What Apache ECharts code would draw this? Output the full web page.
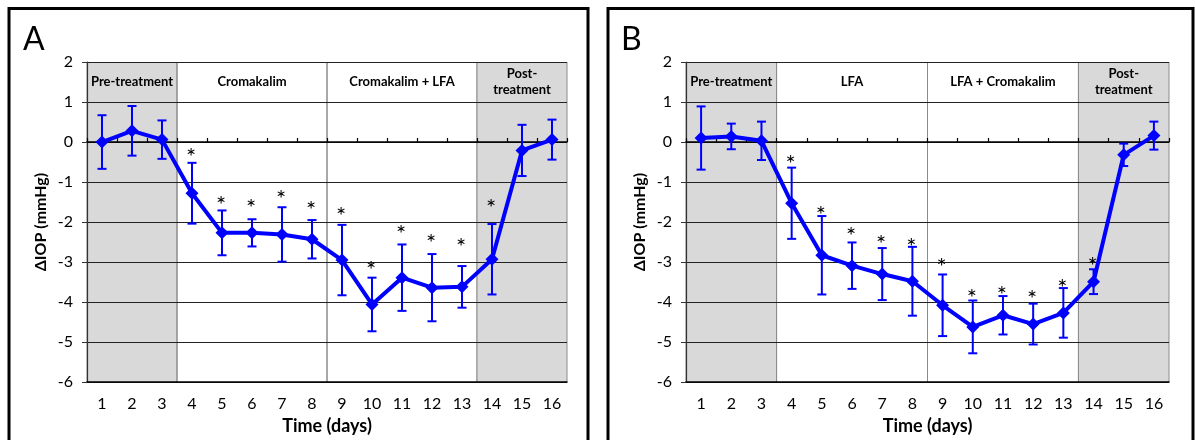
<!DOCTYPE html>
<html>
<head>
<meta charset="utf-8">
<script src="https://cdn.jsdelivr.net/npm/echarts@6/dist/echarts.min.js"></script>
<style>
html,body{margin:0;padding:0;background:#fff;}
#chart{width:1195px;height:440px;}
</style>
</head>
<body>
<div id="chart"></div>
<script>
// ---- data ----
const days = ['1','2','3','4','5','6','7','8','9','10','11','12','13','14','15','16'];
const yTicks = { min: -6, max: 2, step: 1 };

const meanA = [0, 0.28, 0.06, -1.28, -2.27, -2.27, -2.31, -2.43, -2.95, -4.06, -3.39, -3.64, -3.62, -2.93, -0.21, 0.06];
const errA  = [0.67, 0.62, 0.48, 0.76, 0.56, 0.34, 0.68, 0.48, 0.88, 0.67, 0.83, 0.84, 0.52, 0.88, 0.64, 0.50];
const starA = [null, null, null, -0.25, -1.45, -1.53, -1.30, -1.57, -1.73, -3.07, -2.18, -2.40, -2.50, -1.53, null, null];

const meanB = [0.10, 0.14, 0.03, -1.53, -2.83, -3.09, -3.30, -3.48, -4.08, -4.62, -4.33, -4.55, -4.27, -3.49, -0.32, 0.16];
const errB  = [0.79, 0.32, 0.48, 0.89, 0.98, 0.58, 0.65, 0.86, 0.77, 0.66, 0.48, 0.51, 0.62, 0.31, 0.28, 0.35];
const starB = [null, null, null, -0.43, -1.70, -2.24, -2.43, -2.51, -3.01, -3.79, -3.70, -3.80, -3.54, -2.97, null, null];

const regionStart  = [1, 4, 9, 14];
const regionEnd    = [3, 8, 13, 16];
const regionShaded = [true, false, false, true];
const regionLabelsA = ['Pre-treatment', 'Cromakalim', 'Cromakalim + LFA', 'Post-\ntreatment'];
const regionLabelsB = ['Pre-treatment', 'LFA', 'LFA + Cromakalim', 'Post-\ntreatment'];
const panelLetters = ['A', 'B'];
const yName = 'ΔIOP (mmHg)';
const xName = 'Time (days)';

// ---- styles ----
const FONT = 'Lato, "Open Sans", sans-serif';
const BLUE = '#0000ff';
const grids = [
  { left: 87, top: 62, width: 480, height: 321 },
  { left: 686, top: 62, width: 483, height: 321 }
];

function regionData(labels) {
  return regionStart.map((s, i) => [s - 1, regionEnd[i] - 1, regionShaded[i] ? 1 : 0]);
}
function renderRegion(params, api) {
  const s = api.coord([api.value(0), yTicks.max]);
  const e = api.coord([api.value(1), yTicks.min]);
  const bw = api.size([1, 0])[0];
  const x0 = s[0] - bw / 2, x1 = e[0] + bw / 2, y0 = s[1], y1 = e[1];
  const children = [];
  if (api.value(2) === 1) {
    children.push({ type: 'rect', shape: { x: x0, y: y0, width: x1 - x0, height: y1 - y0 }, style: { fill: '#d9d9d9' } });
  }
  children.push({ type: 'line', shape: { x1: x1, y1: y0, x2: x1, y2: y1 }, style: { stroke: '#8c8c8c', lineWidth: 1 } });
  children.push({ type: 'line', shape: { x1: x0, y1: y0, x2: x0, y2: y1 }, style: { stroke: '#8c8c8c', lineWidth: 1 } });
  return { type: 'group', children: children };
}
function regionTextRender(labels) {
  return function (params, api) {
    const s = api.coord([api.value(0), yTicks.max - 0.5]);
    const e = api.coord([api.value(1), yTicks.max - 0.5]);
    const txt = labels[params.dataIndex];
    return {
      type: 'text',
      style: {
        text: txt, x: (s[0] + e[0]) / 2, y: s[1],
        textAlign: 'center', textVerticalAlign: 'middle', align: 'center', verticalAlign: 'middle',
        font: 'bold 13px ' + FONT, fill: '#000', lineHeight: 16
      },
      z2: 10
    };
  };
}
function errData(mean, err) { return mean.map((m, i) => [i, m, err[i]]); }
function renderErr(params, api) {
  const i = api.value(0), m = api.value(1), e = api.value(2);
  const hi = api.coord([i, m + e]), lo = api.coord([i, m - e]);
  const cw = 4.5;
  const st = { stroke: BLUE, lineWidth: 2 };
  return { type: 'group', children: [
    { type: 'line', shape: { x1: hi[0], y1: hi[1], x2: lo[0], y2: lo[1] }, style: st },
    { type: 'line', shape: { x1: hi[0] - cw, y1: hi[1], x2: hi[0] + cw, y2: hi[1] }, style: st },
    { type: 'line', shape: { x1: lo[0] - cw, y1: lo[1], x2: lo[0] + cw, y2: lo[1] }, style: st }
  ]};
}
function starData(stars) { return stars.map((v, i) => [i, v]).filter(d => d[1] !== null); }
function renderStar(params, api) {
  const p = api.coord([api.value(0), api.value(1)]);
  return { type: 'text', style: { text: '*', x: p[0] - 1, y: p[1] + 5, textAlign: 'center', textVerticalAlign: 'middle', align: 'center', verticalAlign: 'middle', font: '24px ' + FONT, fill: '#000' } };
}

const xAxes = [], yAxes = [], series = [];
[0, 1].forEach(g => {
  xAxes.push({
    type: 'category', gridIndex: g, data: days, boundaryGap: true, z: 3,
    axisLine: { onZero: false, lineStyle: { color: '#000', width: 1.5 } },
    axisTick: { show: false },
    axisLabel: { color: '#000', fontSize: 16, fontFamily: FONT, margin: 14 },
    splitLine: { show: false },
    name: xName, nameLocation: 'middle', nameGap: 34,
    nameTextStyle: { color: '#000', fontSize: 18, fontWeight: 'bold', fontFamily: FONT }
  });
  xAxes.push({
    type: 'category', gridIndex: g, data: days, boundaryGap: true, z: 3,
    axisLine: { onZero: true, onZeroAxisIndex: g, lineStyle: { color: '#000', width: 1.5 } },
    axisTick: { show: true, length: 4, lineStyle: { color: '#000', width: 1.2 } },
    axisLabel: { show: false },
    splitLine: { show: false }
  });
  yAxes.push({
    type: 'value', gridIndex: g, min: yTicks.min, max: yTicks.max, interval: yTicks.step, z: 3,
    axisLine: { show: true, lineStyle: { color: '#333', width: 1.2 } },
    axisTick: { show: true, length: 5, lineStyle: { color: '#333' } },
    axisLabel: { color: '#000', fontSize: 16, fontFamily: FONT, margin: 14 },
    splitLine: { show: true, lineStyle: { color: '#222', width: 1 } },
    name: yName, nameLocation: 'middle', nameGap: 38,
    nameTextStyle: { color: '#000', fontSize: 16, fontWeight: 'bold', fontFamily: FONT }
  });
  const labels = g === 0 ? regionLabelsA : regionLabelsB;
  const mean = g === 0 ? meanA : meanB;
  const err = g === 0 ? errA : errB;
  const stars = g === 0 ? starA : starB;
  series.push({ type: 'custom', xAxisIndex: g * 2, yAxisIndex: g, z: 1, silent: true,
    renderItem: renderRegion, data: regionData(labels), encode: { x: [0, 1], y: -1 }, clip: false });
  series.push({ type: 'custom', xAxisIndex: g * 2, yAxisIndex: g, z: 4, silent: true,
    renderItem: regionTextRender(labels), data: regionData(labels), encode: { x: [0, 1], y: -1 }, clip: false });
  series.push({ type: 'custom', xAxisIndex: g * 2, yAxisIndex: g, z: 5, silent: true,
    renderItem: renderErr, data: errData(mean, err), encode: { x: 0, y: 1 } });
  series.push({ type: 'line', xAxisIndex: g * 2, yAxisIndex: g, z: 6, data: mean,
    symbol: 'diamond', symbolSize: 13, lineStyle: { color: BLUE, width: 4 },
    itemStyle: { color: BLUE }, animation: false });
  series.push({ type: 'custom', xAxisIndex: g * 2, yAxisIndex: g, z: 7, silent: true,
    renderItem: renderStar, data: starData(stars), encode: { x: 0, y: 1 } });
});

const chart = echarts.init(document.getElementById('chart'), null, { renderer: 'canvas' });
chart.setOption({
  animation: false,
  backgroundColor: '#fff',
  grid: grids,
  xAxis: xAxes,
  yAxis: yAxes,
  series: series,
  graphic: [
    { type: 'rect', shape: { x: 9, y: 8.5, width: 579, height: 460 }, style: { fill: 'none', stroke: '#000', lineWidth: 3 }, z: 100 },
    { type: 'rect', shape: { x: 608, y: 8.5, width: 585, height: 460 }, style: { fill: 'none', stroke: '#000', lineWidth: 3 }, z: 100 },
    { type: 'text', left: 23, top: 24, style: { text: panelLetters[0], font: '32px ' + FONT, fill: '#000' }, z: 100 },
    { type: 'text', left: 621, top: 24, style: { text: panelLetters[1], font: '32px ' + FONT, fill: '#000' }, z: 100 }
  ]
});
</script>
</body>
</html>
